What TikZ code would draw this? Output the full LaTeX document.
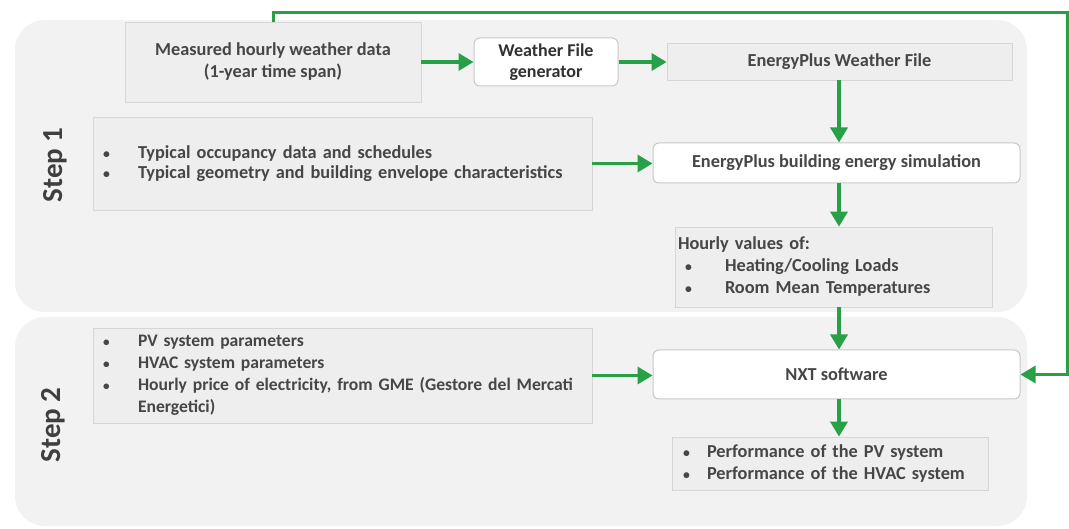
\documentclass[tikz,border=0pt]{standalone}
\usepackage{fontspec}
\usepackage{graphicx}
\setmainfont{Carlito}
\usetikzlibrary{arrows.meta}
\definecolor{garrow}{RGB}{40,160,72}
\definecolor{panel}{RGB}{242,242,242}
\definecolor{boxfill}{RGB}{238,238,238}
\definecolor{boxline}{RGB}{214,214,214}
\definecolor{wline}{RGB}{200,200,200}
\definecolor{txt}{RGB}{70,70,70}
\newcommand{\bul}[1]{\makebox[#1][l]{\scalebox{0.75}{\textbullet}}}
\tikzset{
  graybox/.style={draw=boxline, fill=boxfill, line width=0.8pt, inner sep=0pt},
  whitebox/.style={draw=wline, fill=white, rounded corners=6pt, line width=1pt, inner sep=0pt},
  flow/.style={draw=garrow, line width=3.5pt, -{Triangle[length=15pt,width=17pt]}},
  body/.style={font=\fontsize{18.3}{22}\selectfont\bfseries, text=txt},
  steplbl/.style={font=\fontsize{29}{32}\selectfont\bfseries, text=txt!90!black, rotate=90},
}
\begin{document}
\begin{tikzpicture}[x=1pt,y=-1pt]
\useasboundingbox (0,0) rectangle (1069,529);
\fill[white] (0,0) rectangle (1069,529);
% panels
\fill[panel, rounded corners=30pt] (15,20) rectangle (1027,312);
\fill[panel, rounded corners=30pt] (15,317) rectangle (1027,526);
\node[steplbl] (s1) at (55,165) {Step 1};
\node[steplbl] (s2) at (53,425) {Step 2};
% boxes
\node[graybox, body, minimum width=296pt, minimum height=80pt, align=center] (meas) at (273,62) {Measured hourly weather data\\(1-year time span)};
\node[whitebox, text=txt!70!black, minimum width=144pt, minimum height=48pt, align=center, font=\fontsize{18}{21}\selectfont\bfseries] (gen) at (546,62) {Weather File\\generator};
\node[graybox, body, minimum width=345pt, minimum height=37pt] (epw) at (839.5,61.5) {EnergyPlus Weather File};
\node[whitebox, body, minimum width=367pt, minimum height=40pt] (sim) at (836.5,163) {EnergyPlus building energy simulation};
\node[graybox, body, font=\fontsize{18.3}{20}\selectfont\bfseries, minimum width=499pt, minimum height=93pt, text width=479pt, align=left] (typ) at (342.5,163.5)
  {\bul{35pt}Typical occupancy data and schedules\\\bul{35pt}Typical geometry and building envelope characteristics};
\node[graybox, body, minimum width=317pt, minimum height=80pt, text width=311pt, align=left] (hour) at (833.5,267)
  {Hourly values of:\\\hspace*{7pt}\bul{40pt}Heating/Cooling Loads\\\hspace*{7pt}\bul{40pt}Room Mean Temperatures};
\node[graybox, body, font=\fontsize{17.6}{22}\selectfont\bfseries, minimum width=499pt, minimum height=95pt, text width=497pt, align=left] (par) at (342.5,375.5)
  {\hspace*{9pt}\bul{35pt}PV system parameters\\\hspace*{9pt}\bul{35pt}HVAC system parameters\\\mbox{\hspace*{9pt}\bul{35pt}Hourly price of electricity, from GME (Gestore del Mercati}\\\hspace*{44pt}Energetici)};
\node[whitebox, body, minimum width=367pt, minimum height=49pt] (nxt) at (836.5,374.5) {NXT software};
\node[graybox, body, minimum width=316pt, minimum height=53pt, text width=294pt, align=left] (perf) at (830,463.5)
  {\bul{24pt}Performance of the PV system\\\bul{24pt}Performance of the HVAC system};
% connectors
\coordinate (colx) at (839,0);
\coordinate (lc) at (1067,13);
\draw[flow] (meas.east) -- (gen.west);
\draw[flow] (gen.east) -- (gen.east -| epw.west);
\draw[flow] (epw.south -| colx) -- (sim.north -| colx);
\draw[flow] (typ.east) -- (typ.east -| sim.west);
\draw[flow] (sim.south -| colx) -- (hour.north -| colx);
\draw[flow] (hour.south -| colx) -- (nxt.north -| colx);
\draw[flow] (par.east) -- (par.east -| nxt.west);
\draw[flow] (nxt.south -| colx) -- (perf.north -| colx);
\draw[flow, line width=3pt] (meas.north) |- (lc) |- (nxt.east);
\end{tikzpicture}
\end{document}
